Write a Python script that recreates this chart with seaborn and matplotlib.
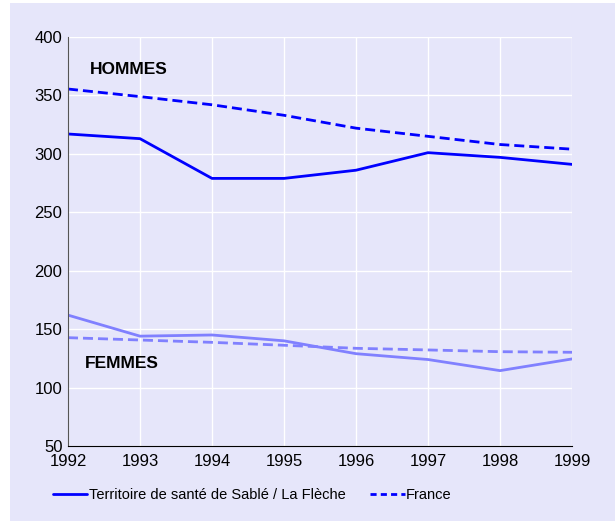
import matplotlib
matplotlib.use("Agg")
import matplotlib.pyplot as plt
from matplotlib.patches import Rectangle
from matplotlib.lines import Line2D
import seaborn as sns

years = [1992, 1993, 1994, 1995, 1996, 1997, 1998, 1999]
hommes_territoire = [317, 313, 279, 279, 286, 301, 297, 291]
hommes_france = [355.5, 349, 342, 333, 322, 315, 308, 304]
femmes_territoire = [162, 144, 145, 140, 129, 124, 114.5, 124.5]
femmes_france = [142.7, 140.7, 138.7, 136.2, 133.6, 132.2, 130.7, 130.2]
yticks = [50, 100, 150, 200, 250, 300, 350, 400]
legend_labels = ["Territoire de santé de Sablé / La Flèche", "France"]

sns.set_style("white")
plt.rcParams['font.family'] = ['Liberation Sans', 'DejaVu Sans']
plt.rcParams['text.color'] = 'black'
plt.rcParams['xtick.color'] = 'black'
plt.rcParams['ytick.color'] = 'black'

bg = "#E6E6FA"
fig = plt.figure(figsize=(6.15, 5.21), dpi=100)
fig.patch.set_facecolor("white")
fig.patches.append(Rectangle((10/615, 0), 1 - 10/615, (521-3)/521,
                             transform=fig.transFigure, facecolor=bg,
                             edgecolor="none", zorder=-10))

ax = fig.add_axes([68/615, 75/521, (572-68)/615, (446-37)/521])
ax.set_facecolor(bg)

c_h = "#0000FF"
c_f = "#8080FF"
dash = (0, (3.6, 1.8))
sns.lineplot(x=years, y=hommes_territoire, ax=ax, color=c_h, lw=2)
sns.lineplot(x=years, y=hommes_france, ax=ax, color=c_h, lw=2, linestyle=dash)
sns.lineplot(x=years, y=femmes_territoire, ax=ax, color=c_f, lw=2)
sns.lineplot(x=years, y=femmes_france, ax=ax, color=c_f, lw=2, linestyle=dash)

ax.set_xlim(1992, 1999)
ax.set_ylim(50, 400)
ax.set_xticks(years)
ax.set_yticks(yticks)
ax.grid(True, color="white", lw=1)
ax.set_axisbelow(True)
for s in ["top", "right"]:
    ax.spines[s].set_visible(False)
ax.spines["left"].set_color("#555555")
ax.spines["bottom"].set_color("black")
ax.tick_params(axis="both", length=0, labelsize=12)
ax.tick_params(axis="x", pad=6)
ax.tick_params(axis="y", pad=4)

ax.text(1992.31, 372, "HOMMES", fontsize=12.5, fontweight="bold", va="center", ha="left")
ax.text(1992.24, 121, "FEMMES", fontsize=12.5, fontweight="bold", va="center", ha="left")

handles = [Line2D([0], [0], color=c_h, lw=2),
           Line2D([0], [0], color=c_h, lw=2, linestyle=(0, (2.2, 1.5)))]
fig.legend(handles, legend_labels, loc="center left", bbox_to_anchor=(40/615, 1 - 495/521),
           ncol=2, frameon=False, fontsize=10.5, handlelength=2.35, handletextpad=0.1,
           columnspacing=1.7)

fig.savefig("out.png", dpi=100, facecolor="white")
